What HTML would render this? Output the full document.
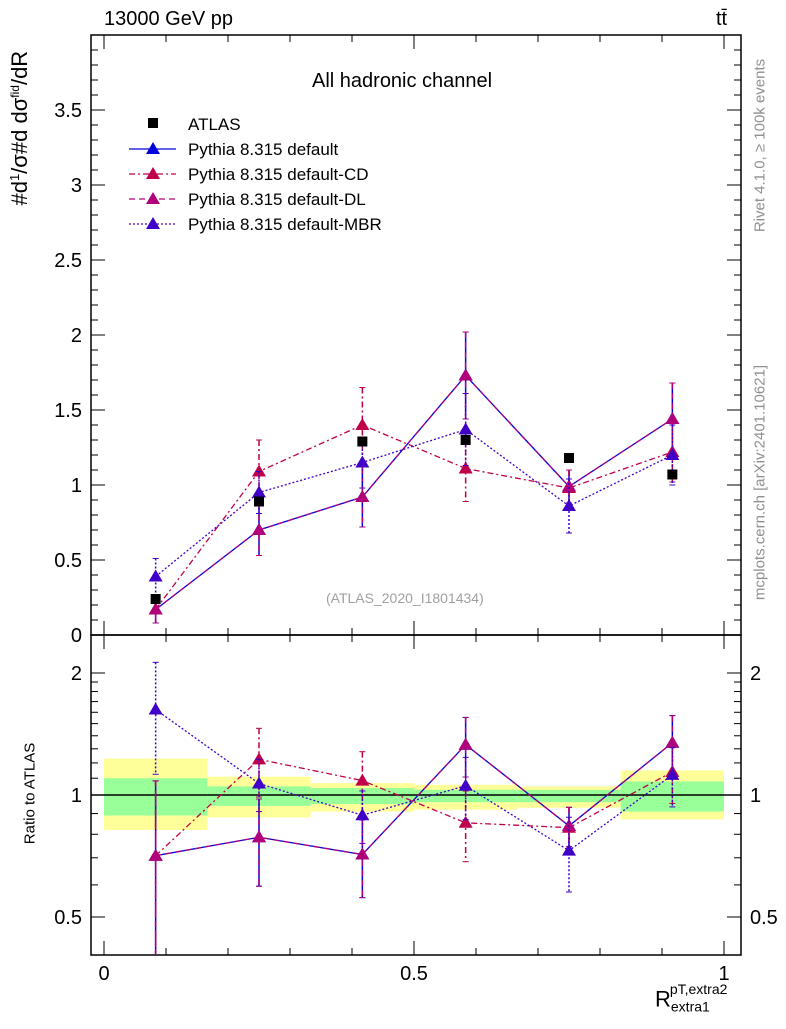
<!DOCTYPE html>
<html><head><meta charset="utf-8"><style>
body{margin:0;background:#fff}
svg text{font-family:"Liberation Sans",sans-serif}
</style></head><body>
<svg id="c" width="786" height="1024" xmlns="http://www.w3.org/2000/svg"></svg>
<script>
const xCenters=[0.0833,0.25,0.4167,0.5833,0.75,0.9167];
const binEdges=[0,0.1667,0.3333,0.5,0.6667,0.8333,1];
const atlasVals=[0.24,0.89,1.29,1.30,1.18,1.07];
const bandYellowUp=[1.23,1.11,1.07,1.06,1.05,1.15];
const bandYellowDn=[0.82,0.88,0.91,0.92,0.93,0.87];
const bandGreenUp=[1.10,1.05,1.04,1.03,1.03,1.08];
const bandGreenDn=[0.89,0.94,0.95,0.96,0.96,0.91];
const defVals=[0.17,0.70,0.92,1.73,0.99,1.44];
const defErr=[0.09,0.17,0.20,0.29,0.11,0.24];
const cdVals=[0.17,1.09,1.40,1.11,0.98,1.22];
const cdErr=[0.09,0.21,0.25,0.22,0.12,0.20];
const dlVals=[0.17,0.70,0.92,1.73,0.99,1.44];
const dlErr=[0.09,0.17,0.20,0.29,0.11,0.24];
const mbrVals=[0.39,0.95,1.15,1.37,0.86,1.20];
const mbrErr=[0.12,0.14,0.17,0.24,0.18,0.20];
const mainTicks=[0,0.5,1,1.5,2,2.5,3,3.5];
const mainTickLabels=["0","0.5","1","1.5","2","2.5","3","3.5"];
const ratioTicks=[0.5,1,2];
const ratioTickLabels=["0.5","1","2"];
const xTicks=[0,0.5,1];
const xTickLabels=["0","0.5","1"];

const svg=document.getElementById('c');
const NS='http://www.w3.org/2000/svg';
const L=91,R=741,T=35,M=635,B=955;
const X=v=>104+v*620;
const Y=v=>635-v*150;
const YR=v=>795-Math.log2(v)*122;
function el(t,a,p){const e=document.createElementNS(NS,t);for(const k in a)e.setAttribute(k,a[k]);(p||svg).appendChild(e);return e;}
function txt(s,a,p){const e=el('text',a,p);e.textContent=s;return e;}
function clip(id,y1,y2){const d=el('clipPath',{id:id});el('rect',{x:L,y:y1,width:R-L,height:y2-y1},d);}
clip('cm',T,M);clip('cr',M,B);

// bands
const gb=el('g',{'clip-path':'url(#cr)'});

for(let i=0;i<6;i++){
 const r1=el('rect',{x:X(binEdges[i]),width:X(binEdges[i+1])-X(binEdges[i]),y:YR(bandYellowUp[i]),height:YR(bandYellowDn[i])-YR(bandYellowUp[i]),fill:'#ffff99'},gb);
 
 const r2=el('rect',{x:X(binEdges[i]),width:X(binEdges[i+1])-X(binEdges[i]),y:YR(bandGreenUp[i]),height:YR(bandGreenDn[i])-YR(bandGreenUp[i]),fill:'#99ff99'},gb);
 
}
el('line',{x1:L,x2:R,y1:YR(1),y2:YR(1),stroke:'#000','stroke-width':1.5});

// frames
const f1=el('rect',{x:L,y:T,width:R-L,height:M-T,fill:'none',stroke:'#000','stroke-width':1.5});

const f2=el('rect',{x:L,y:M,width:R-L,height:B-M,fill:'none',stroke:'#000','stroke-width':1.5});


// main y ticks
for(let v=0;v<=4.0001;v+=0.1){const maj=Math.abs(v*2-Math.round(v*2))<1e-6;const y=Y(v);if(y<T)continue;
 const w=maj?14:7;el('line',{x1:L,x2:L+w,y1:y,y2:y,stroke:'#000'});el('line',{x1:R,x2:R-w,y1:y,y2:y,stroke:'#000'});}
mainTicks.forEach((v,i)=>{const t=txt(mainTickLabels[i],{x:82,y:Y(v)+7,'font-size':20,'text-anchor':'end'});});
// ratio ticks
const rmin=[0.5,0.6,0.7,0.8,0.9,1,2];
[0.5,0.6,0.7,0.8,0.9,1,1.1,1.2,1.3,1.4,1.5,1.6,1.7,1.8,1.9,2].forEach(v=>{const maj=ratioTicks.includes(v);const y=YR(v);const w=maj?14:7;
 el('line',{x1:L,x2:L+w,y1:y,y2:y,stroke:'#000'});el('line',{x1:R,x2:R-w,y1:y,y2:y,stroke:'#000'});});
ratioTicks.forEach((v,i)=>{const t=txt(ratioTickLabels[i],{x:82,y:YR(v)+7,'font-size':20,'text-anchor':'end'});
 const t2=txt(ratioTickLabels[i],{x:750,y:YR(v)+7,'font-size':20});});
// x ticks
for(let k=0;k<=10;k++){const v=k/10;const maj=k%5==0;const w=maj?14:7;const x=X(v);
 [T,M].forEach(y=>el('line',{x1:x,x2:x,y1:y,y2:y+w,stroke:'#000'}));
 [M,B].forEach(y=>el('line',{x1:x,x2:x,y1:y,y2:y-w,stroke:'#000'}));}
xTicks.forEach((v,i)=>{const t=txt(xTickLabels[i],{x:X(v),y:980,'font-size':20,'text-anchor':'middle'});});

// series
const series=[
 {name:'default',vals:defVals,err:defErr,color:'#0000dd',dash:''},
 {name:'default-cd',vals:cdVals,err:cdErr,color:'#c0004a',dash:'6,3,2,3'},
 {name:'default-dl',vals:dlVals,err:dlErr,color:'#b0007a',dash:'6,4'},
 {name:'default-mbr',vals:mbrVals,err:mbrErr,color:'#4000c8',dash:'2,2'}];
function tri(g,x,y,c){return el('path',{d:`M${x},${y-7}L${x+7},${y+5}L${x-7},${y+5}Z`,fill:c},g);}
series.forEach(s=>{
 ['main','ratio'].forEach(p=>{
  const g=el('g',{'clip-path':p=='main'?'url(#cm)':'url(#cr)'});
  
  const f=p=='main'?(i=>Y(s.vals[i])):(i=>YR(s.vals[i]/atlasVals[i]));
  const fe=p=='main'?((i,d)=>Y(s.vals[i]+d*s.err[i])):((i,d)=>YR(Math.max(0.01,(s.vals[i]+d*s.err[i])/atlasVals[i])));
  el('polyline',{points:xCenters.map((x,i)=>X(x)+','+f(i)).join(' '),fill:'none',stroke:s.color,'stroke-width':1.3,'stroke-dasharray':s.dash},g);
  xCenters.forEach((x,i)=>{const xp=X(x);const y1=fe(i,1),y2=fe(i,-1);
   el('line',{x1:xp,x2:xp,y1:y1,y2:y2,stroke:s.color,'stroke-width':1.5,'stroke-dasharray':s.dash},g);
   el('line',{x1:xp-3,x2:xp+3,y1:y1,y2:y1,stroke:s.color},g);el('line',{x1:xp-3,x2:xp+3,y1:y2,y2:y2,stroke:s.color},g);
   const m=tri(g,xp,f(i),s.color);});
 });
});
// ATLAS
const ga=el('g',{'clip-path':'url(#cm)'});
xCenters.forEach((x,i)=>{const r=el('rect',{x:X(x)-5,y:Y(atlasVals[i])-5,width:10,height:10,fill:'#000'},ga);});

// legend
const lg=el('g',{});
el('rect',{x:148,y:118,width:10,height:10,fill:'#000'},lg);
txt('ATLAS',{x:188,y:130,'font-size':17},lg);
series.forEach((s,i)=>{const y=149+i*25;
 el('line',{x1:129,x2:176,y1:y,y2:y,stroke:s.color,'stroke-width':1.3,'stroke-dasharray':s.dash},lg);
 tri(lg,153,y,s.color);
 const t=txt('Pythia 8.315 '+s.name.replace('default-cd','default-CD').replace('default-dl','default-DL').replace('default-mbr','default-MBR'),{x:188,y:y+6,'font-size':17},lg);
 });
</script>
<div style="position:absolute;left:0;top:0;width:786px;height:1024px;pointer-events:none;font-family:'Liberation Sans',sans-serif">
<div style="position:absolute;left:104px;top:8px;font-size:20px">13000 GeV pp</div>
<div style="position:absolute;left:716px;top:8px;font-size:20px">tt̄</div>
<div style="position:absolute;left:312px;top:70px;font-size:20px">All hadronic channel</div>
<div style="position:absolute;left:326px;top:590px;font-size:14px;color:#a0a0a0">(ATLAS_2020_I1801434)</div>
<div style="position:absolute;left:-110px;top:115px;width:260px;transform:rotate(-90deg);font-size:22px;text-align:center;white-space:nowrap">#d<sup style="font-size:13px">1</sup>/σ#d dσ<sup style="font-size:12px">fid</sup>/dR</div>
<div style="position:absolute;left:-45px;top:785px;width:150px;transform:rotate(-90deg);font-size:15px;text-align:center;white-space:nowrap">Ratio to ATLAS</div>
<div style="position:absolute;left:655px;top:985px;font-size:22px;white-space:nowrap">R<sub style="font-size:14px">extra1</sub><sup style="font-size:14px;position:relative;left:-40px;top:-4px">pT,extra2</sup></div>
<div style="position:absolute;left:650px;top:137px;width:220px;transform:rotate(-90deg);font-size:15px;color:#909090;white-space:nowrap;text-align:center">Rivet 4.1.0, ≥ 100k events</div>
<div style="position:absolute;left:610px;top:474px;width:300px;transform:rotate(-90deg);font-size:15px;color:#909090;white-space:nowrap;text-align:center">mcplots.cern.ch [arXiv:2401.10621]</div>
</div>
</body></html>
